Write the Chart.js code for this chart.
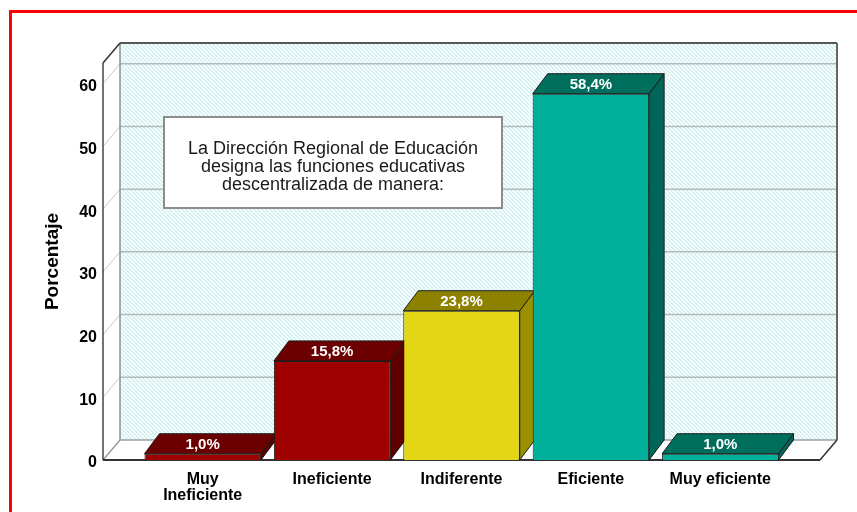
<!DOCTYPE html>
<html>
<head>
<meta charset="utf-8">
<title>Porcentaje</title>
<script src="https://cdn.jsdelivr.net/npm/chart.js@4.4.1/dist/chart.umd.min.js"></script>
<style>
  html, body { margin: 0; padding: 0; background: #fff; }
  #wrap { width: 857px; height: 512px; }
</style>
</head>
<body>
<div id="wrap"><canvas id="grafico" width="857" height="512"></canvas></div>
<script>
// datos
const categorias = [['Muy', 'Ineficiente'], 'Ineficiente', 'Indiferente', 'Eficiente', 'Muy eficiente'];
const porcentajes = [1.0, 15.8, 23.8, 58.4, 1.0];
const etiquetas = ['1,0%', '15,8%', '23,8%', '58,4%', '1,0%'];
const marcasY = [0, 10, 20, 30, 40, 50, 60];
const nota = ['La Dirección Regional de Educación', 'designa las funciones educativas', 'descentralizada de manera:'];

const colorFrente = ['#9e0000', '#9e0000', '#e3d614', '#00b09b', '#00b09b'];
const colorTapa = ['#6c0000', '#6c0000', '#8c8200', '#006e5c', '#006e5c'];
const colorLado = ['#5e0000', '#5e0000', '#9a9000', '#00665a', '#00665a'];

const FUENTE = '"Liberation Sans", Arial, sans-serif';
const PARED = { dx: 17, dy: -20, extra: 35 };  // profundidad de la caja 3D
const BARRA = { dx: 15, dy: -20 };            // profundidad de las barras

function rayado() {
    const c = document.createElement('canvas');
    c.width = 4; c.height = 4;
    const g = c.getContext('2d');
    g.fillStyle = '#f8fdfd';
    g.fillRect(0, 0, 4, 4);
    g.fillStyle = '#d6f1f1';
    for (let i = 0; i < 4; i++) {
        g.fillRect(i, i, 1, 1);
        g.fillRect((i + 1) % 4, i, 1, 1);
    }
    return c;
}

function poligono(ctx, pts, fill, stroke, lw) {
    ctx.beginPath();
    ctx.moveTo(pts[0][0], pts[0][1]);
    for (let i = 1; i < pts.length; i++) ctx.lineTo(pts[i][0], pts[i][1]);
    ctx.closePath();
    if (fill) { ctx.fillStyle = fill; ctx.fill(); }
    if (stroke) { ctx.strokeStyle = stroke; ctx.lineWidth = lw || 1; ctx.stroke(); }
}

function linea(ctx, x1, y1, x2, y2, color, lw) {
    ctx.beginPath();
    ctx.moveTo(x1, y1);
    ctx.lineTo(x2, y2);
    ctx.strokeStyle = color;
    ctx.lineWidth = lw;
    ctx.stroke();
}

const marco = {
    id: 'marco',
    beforeDraw(chart) {
        const ctx = chart.ctx;
        ctx.save();
        ctx.fillStyle = '#ff0000';
        ctx.fillRect(9, 10, 3, 512);
        ctx.fillRect(9, 10, 848, 3);
        ctx.restore();
    }
};

const caja3d = {
    id: 'caja3d',
    beforeDatasetsDraw(chart) {
        const { ctx, chartArea, scales: { y } } = chart;
        const xL = chartArea.left - PARED.extra;
        const xR = chartArea.right + PARED.extra;
        const y0 = y.getPixelForValue(0);
        const yT = chartArea.top;
        const dx = PARED.dx, dy = PARED.dy;
        ctx.save();

        // pared del fondo rayada
        poligono(ctx, [[xL + dx, yT + dy], [xR + dx, yT + dy], [xR + dx, y0 + dy], [xL + dx, y0 + dy]],
            ctx.createPattern(rayado(), 'repeat'));
        // pared izquierda y piso
        poligono(ctx, [[xL, yT], [xL + dx, yT + dy], [xL + dx, y0 + dy], [xL, y0]], '#ffffff');
        poligono(ctx, [[xL, y0], [xL + dx, y0 + dy], [xR + dx, y0 + dy], [xR, y0]], '#ffffff');

        // lineas de la grilla
        marcasY.forEach(v => {
            if (v === 0) return;
            const py = y.getPixelForValue(v);
            linea(ctx, xL + dx, py + dy, xR + dx, py + dy, '#b2bcbc', 1.5);
            linea(ctx, xL, py, xL + dx, py + dy, '#c4c8c8', 1);
        });

        // bordes de la caja
        linea(ctx, xL + dx, yT + dy, xL + dx, y0 + dy, '#8a9090', 1.5);
        linea(ctx, xL + dx, y0 + dy, xR + dx, y0 + dy, '#9aa0a0', 1.5);
        linea(ctx, xL, y0, xL + dx, y0 + dy, '#9aa0a0', 1.5);
        linea(ctx, xL, yT, xL, y0, '#444', 1.5);
        linea(ctx, xL, yT, xL + dx, yT + dy, '#333', 1.5);
        linea(ctx, xL + dx, yT + dy, xR + dx, yT + dy, '#555', 2);
        linea(ctx, xR + dx, yT + dy, xR + dx, y0 + dy, '#666', 2);
        linea(ctx, xL, y0, xR, y0, '#333', 2);
        linea(ctx, xR, y0, xR + dx, y0 + dy, '#333', 1.5);

        // recuadro de la nota
        ctx.fillStyle = '#ffffff';
        ctx.fillRect(164, 117, 338, 91);
        ctx.strokeStyle = '#8c8c8c';
        ctx.lineWidth = 2;
        ctx.strokeRect(164, 117, 338, 91);
        ctx.fillStyle = '#1a1a1a';
        ctx.font = '18px ' + FUENTE;
        ctx.textAlign = 'center';
        ctx.textBaseline = 'middle';
        nota.forEach((t, i) => ctx.fillText(t, 333, 149 + i * 18));

        // caras superior y lateral de las barras
        const meta = chart.getDatasetMeta(0);
        meta.data.forEach((bar, i) => {
            const p = bar.getProps(['x', 'y', 'base', 'width'], true);
            const l = p.x - p.width / 2, r = p.x + p.width / 2;
            poligono(ctx, [[r, p.y], [r + BARRA.dx, p.y + BARRA.dy], [r + BARRA.dx, p.base + BARRA.dy], [r, p.base]],
                colorLado[i], '#1c1c1c', 1);
            poligono(ctx, [[l, p.y], [l + BARRA.dx, p.y + BARRA.dy], [r + BARRA.dx, p.y + BARRA.dy], [r, p.y]],
                colorTapa[i], '#1c1c1c', 1);
        });
        ctx.restore();
    },
    afterDatasetsDraw(chart) {
        const ctx = chart.ctx;
        ctx.save();
        ctx.fillStyle = '#ffffff';
        ctx.font = 'bold 15px ' + FUENTE;
        ctx.textAlign = 'center';
        ctx.textBaseline = 'middle';
        chart.getDatasetMeta(0).data.forEach((bar, i) => {
            ctx.fillText(etiquetas[i], bar.x, bar.y + BARRA.dy / 2 + 1);
        });
        ctx.restore();
    }
};

new Chart(document.getElementById('grafico').getContext('2d'), {
    type: 'bar',
    data: {
        labels: categorias,
        datasets: [{
            data: porcentajes,
            backgroundColor: colorFrente,
            borderColor: '#1c1c1c',
            borderWidth: 1,
            categoryPercentage: 1,
            barPercentage: 0.9
        }]
    },
    options: {
        responsive: false,
        animation: false,
        devicePixelRatio: 1,
        layout: { padding: { left: 10, top: 63, right: 72, bottom: 0 } },
        plugins: {
            legend: { display: false },
            tooltip: { enabled: false }
        },
        scales: {
            x: {
                grid: { display: false, drawTicks: false },
                border: { display: false },
                ticks: {
                    padding: 12,
                    color: '#000',
                    maxRotation: 0,
                    autoSkip: false,
                    font: { family: FUENTE, size: 16, weight: 'bold', lineHeight: 1.0 }
                },
                afterFit(scale) { scale.height = 52; }
            },
            y: {
                min: 0,
                max: 63.3,
                grid: { display: false, drawTicks: false },
                border: { display: false },
                afterBuildTicks(scale) { scale.ticks = marcasY.map(v => ({ value: v })); },
                ticks: {
                    padding: 41,
                    labelOffset: 3,
                    color: '#000',
                    font: { family: FUENTE, size: 16, weight: 'bold' }
                },
                title: {
                    display: true,
                    text: 'Porcentaje',
                    color: '#000',
                    padding: { top: 31, bottom: 0 },
                    font: { family: FUENTE, size: 19, weight: 'bold' }
                },
                afterFit(scale) { scale.width = 128; }
            }
        }
    },
    plugins: [marco, caja3d]
});
</script>
</body>
</html>
